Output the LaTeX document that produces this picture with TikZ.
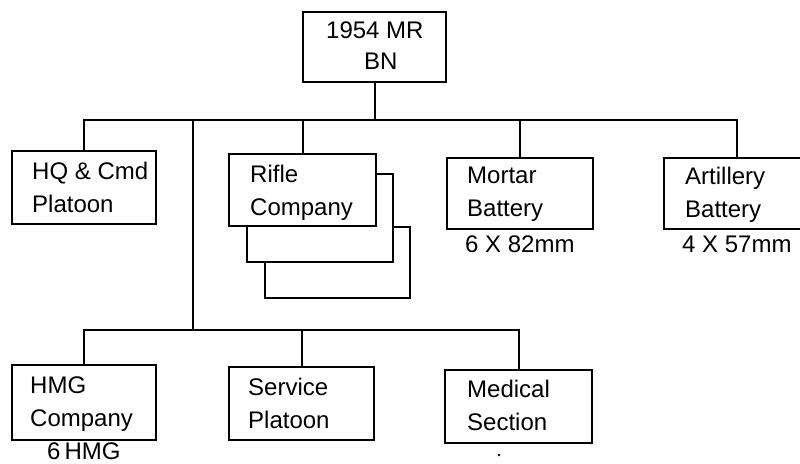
\documentclass[tikz,border=0pt]{standalone}
\usepackage{fontspec}
\setmainfont{Liberation Sans}
\newcommand{\orgfont}{\fontsize{24}{33}\selectfont}
\tikzset{
  orgbox/.style={draw, line width=2pt, fill=white, rectangle, inner sep=0pt},
  boxtext/.style={inner sep=0pt, anchor=north west, align=left, font=\orgfont},
  lbl/.style={inner sep=0pt, font=\orgfont},
  conn/.style={line width=2pt}
}
\begin{document}
\begin{tikzpicture}[x=1pt,y=-1pt]
\useasboundingbox (0,0) rectangle (800,463);
\fill[white] (0,0) rectangle (800,463);
% top
\node[orgbox, minimum width=143pt, minimum height=70pt] (top) at (374.5,47) {};
\node[boxtext, font=\fontsize{24}{31}\selectfont] (topt) at (326,22) {1954 MR\\\hspace*{38pt}BN};
% upper row
\node[orgbox, minimum width=144pt, minimum height=73pt] (hq) at (84,187.5) {};
\node[boxtext] (hqt) at (32,162) {HQ \& Cmd\\Platoon};
\node[orgbox, minimum width=145pt, minimum height=71pt] (rifle3) at (337.5,262.5) {};
\node[orgbox, minimum width=146pt, minimum height=88pt] (rifle2) at (320,218) {};
\node[orgbox, minimum width=147pt, minimum height=72pt] (rifle) at (302.5,190) {};
\node[boxtext] (riflet) at (250,165) {Rifle\\Company};
\node[orgbox, minimum width=146pt, minimum height=71pt] (mortar) at (520,193.5) {};
\node[boxtext] (mortart) at (467,167) {Mortar\\Battery};
\node[orgbox, minimum width=146pt, minimum height=71pt] (art) at (737,193.5) {};
\node[boxtext] (artt) at (685,167) {Artillery\\Battery};
\node[lbl, anchor=base west] (m82) at (465,252) {6 X 82mm};
\node[lbl, anchor=base west] (a57) at (682,252) {4 X 57mm};
% lower row
\node[orgbox, minimum width=144pt, minimum height=75pt] (hmg) at (84,402.5) {};
\node[boxtext] (hmgt) at (30,377) {HMG\\Company};
\node[orgbox, minimum width=145pt, minimum height=73pt] (service) at (301.5,403.5) {};
\node[boxtext] (servicet) at (248,378) {Service\\Platoon};
\node[orgbox, minimum width=147pt, minimum height=73pt] (medical) at (518.5,406.5) {};
\node[boxtext] (medicalt) at (467,380) {Medical\\Section};
\node[lbl, anchor=base west] (hmgl) at (47,459) {6\,HMG};
\node[circle, fill=black, inner sep=0pt, minimum size=2.8pt] (dot) at (499,455) {};
% connectors
\coordinate (bus) at (0,120);
\coordinate (bus2) at (0,330);
\coordinate (vtop) at (193,120);
\coordinate (vbot) at (193,330);
\draw[conn] (top.south) -- (top.south |- bus);
\draw[conn] (hq.north) -- (hq.north |- bus) -| (art.north);
\draw[conn] (rifle.north) -- (rifle.north |- bus);
\draw[conn] (mortar.north) -- (mortar.north |- bus);
\draw[conn] (vtop) -- (vbot);
\draw[conn] (hmg.north) -- (hmg.north |- bus2) -| (medical.north);
\draw[conn] (service.north) -- (service.north |- bus2);
\end{tikzpicture}
\end{document}
